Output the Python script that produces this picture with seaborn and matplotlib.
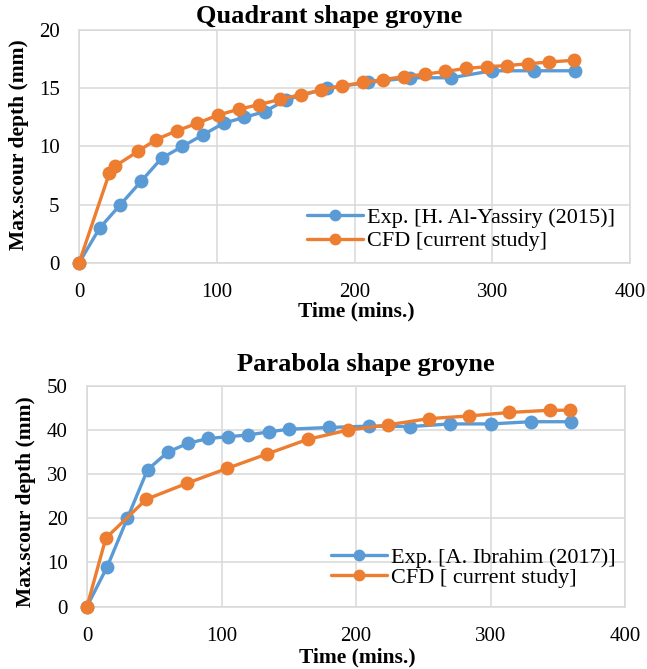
import matplotlib
matplotlib.use("Agg")
import matplotlib.pyplot as plt
import seaborn as sns
import pandas as pd

# Quadrant groyne: experiment (Al-Yassiry 2015) and CFD
quad_exp_time = [0, 15, 30, 45, 60, 75, 90, 105, 120, 135, 150, 180, 210, 240, 270, 300, 330, 360]
quad_exp_depth = [0, 3.0, 5.0, 7.0, 9.0, 10.0, 11.0, 12.0, 12.5, 13.0, 14.0, 15.0, 15.5, 15.9, 15.9, 16.5, 16.5, 16.5]
quad_cfd_time = [0, 22, 26, 43, 56, 71, 86, 101, 116, 131, 146, 161, 176, 191, 206, 221, 236,
                 251, 266, 281, 296, 311, 326, 341, 359]
quad_cfd_depth = [0, 7.7, 8.3, 9.6, 10.6, 11.35, 12.0, 12.7, 13.2, 13.6, 14.05, 14.45, 14.85, 15.2,
                  15.5, 15.75, 16.0, 16.2, 16.45, 16.7, 16.85, 16.95, 17.1, 17.25, 17.4]

# Parabola groyne: experiment (Ibrahim 2017) and CFD
para_exp_time = [0, 15, 30, 45, 60, 75, 90, 105, 120, 135, 150, 180, 210, 240, 270, 300, 330, 360]
para_exp_depth = [0, 9.0, 20.0, 31.0, 35.0, 37.0, 38.1, 38.5, 38.9, 39.6, 40.2, 40.6, 40.9, 40.8,
                  41.4, 41.4, 41.9, 41.9]
para_cfd_time = [0, 14, 44, 74, 104, 134, 164, 194, 224, 254, 284, 314, 344, 359]
para_cfd_depth = [0, 15.5, 24.3, 27.9, 31.3, 34.6, 37.9, 40.0, 41.2, 42.6, 43.2, 44.0, 44.5, 44.5]

quad_labels = ["Exp. [H. Al-Yassiry (2015)]", "CFD [current study]"]
para_labels = ["Exp. [A. Ibrahim (2017)]", "CFD [ current study]"]

x_ticks = [0, 100, 200, 300, 400]
quad_y_ticks = [0, 5, 10, 15, 20]
para_y_ticks = [0, 10, 20, 30, 40, 50]

BLUE = "#5B9BD5"
ORANGE = "#ED7D31"
GRID = "#D9D9D9"

sns.set_style("white")
plt.rcParams["font.family"] = ["Liberation Serif", "DejaVu Serif"]
for key in ("text.color", "axes.labelcolor", "xtick.color", "ytick.color"):
    plt.rcParams[key] = "black"


def long_frame(t1, d1, t2, d2, labels):
    a = pd.DataFrame({"time": t1, "depth": d1, "series": labels[0]})
    b = pd.DataFrame({"time": t2, "depth": d2, "series": labels[1]})
    return pd.concat([a, b], ignore_index=True)


def draw(ax, df, labels, yticks, legend_anchor, label_spacing):
    sns.lineplot(data=df, x="time", y="depth", hue="series", hue_order=labels,
                 palette=[BLUE, ORANGE], marker="o", markersize=10,
                 markeredgewidth=0, linewidth=2.4, sort=False, ax=ax,
                 clip_on=False, zorder=3, legend=True)
    ax.set_xlim(x_ticks[0], x_ticks[-1])
    ax.set_ylim(yticks[0], yticks[-1])
    ax.set_xticks(x_ticks)
    ax.set_yticks(yticks)
    ax.grid(True, color=GRID, linewidth=1.1)
    ax.set_axisbelow(True)
    for s in ax.spines.values():
        s.set_color(GRID)
        s.set_linewidth(1.1)
    ax.tick_params(axis="both", length=0, labelsize=15, labelcolor="black")
    ax.tick_params(axis="x", pad=14.5)
    ax.tick_params(axis="y", pad=14)
    ax.set_xlabel("")
    ax.set_ylabel("")
    handles, lbls = ax.get_legend_handles_labels()
    for h in handles:
        h.set_markersize(8.5)
    ax.legend(handles, lbls, loc="center left", bbox_to_anchor=legend_anchor,
              bbox_transform=fig.transFigure, frameon=False, fontsize=16,
              handlelength=2.5, handletextpad=0.2, labelspacing=label_spacing,
              borderpad=0, borderaxespad=0, labelcolor="black")


W, H = 647, 669
fig = plt.figure(figsize=(W / 100, H / 100), dpi=100)

ax1 = fig.add_axes([79 / W, 1 - 263 / H, (630 - 79) / W, (263 - 30) / H])
ax2 = fig.add_axes([87 / W, 1 - 606.5 / H, (625 - 87) / W, (606.5 - 386) / H])

draw(ax1, long_frame(quad_exp_time, quad_exp_depth, quad_cfd_time, quad_cfd_depth, quad_labels),
     quad_labels, quad_y_ticks, (307 / W, 1 - 229.5 / H), 0.12)
draw(ax2, long_frame(para_exp_time, para_exp_depth, para_cfd_time, para_cfd_depth, para_labels),
     para_labels, para_y_ticks, (331 / W, 1 - 567.5 / H), 0.0)

# Titles and axis labels
fig.text(329 / W, 1 - 17 / H, "Quadrant shape groyne", ha="center", va="center",
         fontsize=19, fontweight="bold")
fig.text(366 / W, 1 - 364 / H, "Parabola shape groyne", ha="center", va="center",
         fontsize=19, fontweight="bold")
fig.text(356 / W, 1 - 311 / H, "Time (mins.)", ha="center", va="center",
         fontsize=15.5, fontweight="bold")
fig.text(357 / W, 1 - 657 / H, "Time (mins.)", ha="center", va="center",
         fontsize=15.5, fontweight="bold")
fig.text(19 / W, 1 - 145 / H, "Max.scour depth (mm)", ha="center", va="center",
         rotation=90, fontsize=15.5, fontweight="bold")
fig.text(26 / W, 1 - 502 / H, "Max.scour depth (mm)", ha="center", va="center",
         rotation=90, fontsize=15.5, fontweight="bold")

fig.savefig("out.png", dpi=100)
